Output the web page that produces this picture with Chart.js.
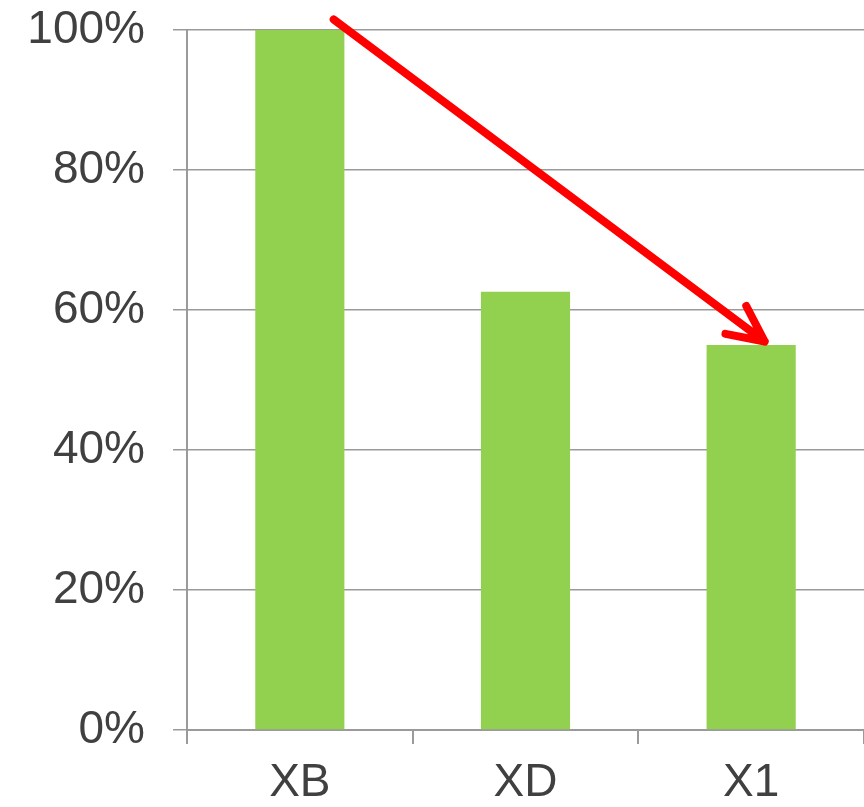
<!DOCTYPE html>
<html>
<head>
<meta charset="utf-8">
<script src="https://cdn.jsdelivr.net/npm/chart.js@4/dist/chart.umd.min.js"></script>
<style>
  html, body { margin: 0; padding: 0; background: #fff; }
  #wrap { width: 864px; height: 807px; }
</style>
</head>
<body>
<div id="wrap"><canvas id="chart" width="864" height="807"></canvas></div>
<script>
'use strict';

var categories = ['XB', 'XD', 'X1'];
var shares = [1.0, 0.626, 0.55];
var yTicks = [0, 0.2, 0.4, 0.6, 0.8, 1.0];
// arrow from just right of XB's top down to X1's top (category index, value)
var arrowFrom = [0.15, 1.015];
var arrowTo = [2.06, 0.555];

var fontFamily = "'Liberation Sans', Arial, sans-serif";
var textColor = '#404040';
var gridColor = '#9a9a9a';

var arrowPlugin = {
  id: 'trendArrow',
  afterDatasetsDraw: function (chart) {
    var xs = chart.scales.x, ys = chart.scales.y, ctx = chart.ctx;
    var x1 = xs.getPixelForValue(arrowFrom[0]), y1 = ys.getPixelForValue(arrowFrom[1]);
    var x2 = xs.getPixelForValue(arrowTo[0]), y2 = ys.getPixelForValue(arrowTo[1]);
    var ang = Math.atan2(y2 - y1, x2 - x1);
    var head = 40, spread = 0.45;
    ctx.save();
    ctx.strokeStyle = '#ff0000';
    ctx.lineWidth = 8;
    ctx.lineCap = 'round';
    ctx.lineJoin = 'round';
    ctx.beginPath();
    ctx.moveTo(x1, y1);
    ctx.lineTo(x2, y2);
    ctx.moveTo(x2 - head * Math.cos(ang - spread), y2 - head * Math.sin(ang - spread));
    ctx.lineTo(x2, y2);
    ctx.lineTo(x2 - head * Math.cos(ang + spread), y2 - head * Math.sin(ang + spread));
    ctx.stroke();
    ctx.restore();
  }
};

new Chart(document.getElementById('chart'), {
  type: 'bar',
  data: {
    labels: categories,
    datasets: [{
      data: shares,
      backgroundColor: '#92d050',
      categoryPercentage: 1,
      barPercentage: 0.395
    }]
  },
  options: {
    responsive: false,
    animation: false,
    layout: { padding: { top: 30, right: 0, bottom: 0, left: 0 } },
    plugins: { legend: { display: false }, tooltip: { enabled: false } },
    scales: {
      x: {
        afterFit: function (s) { s.height = 77; s.paddingLeft = 0; s.paddingRight = 0; },
        grid: { drawOnChartArea: false, drawTicks: true, tickLength: 14, color: gridColor, lineWidth: 2 },
        border: { color: gridColor, width: 2 },
        ticks: { color: textColor, font: { family: fontFamily, size: 46 }, padding: 12, maxRotation: 0 }
      },
      y: {
        min: 0,
        max: 1,
        afterFit: function (s) { s.width = 187; s.paddingTop = 0; s.paddingBottom = 0; },
        afterBuildTicks: function (s) { s.ticks = yTicks.map(function (v) { return { value: v }; }); },
        grid: { color: gridColor, lineWidth: 1.5, tickLength: 14 },
        border: { color: gridColor, width: 2 },
        ticks: {
          color: textColor,
          font: { family: fontFamily, size: 46 },
          padding: 28,
          callback: function (v) { return Math.round(v * 100) + '%'; }
        }
      }
    }
  },
  plugins: [arrowPlugin]
});
</script>
</body>
</html>
